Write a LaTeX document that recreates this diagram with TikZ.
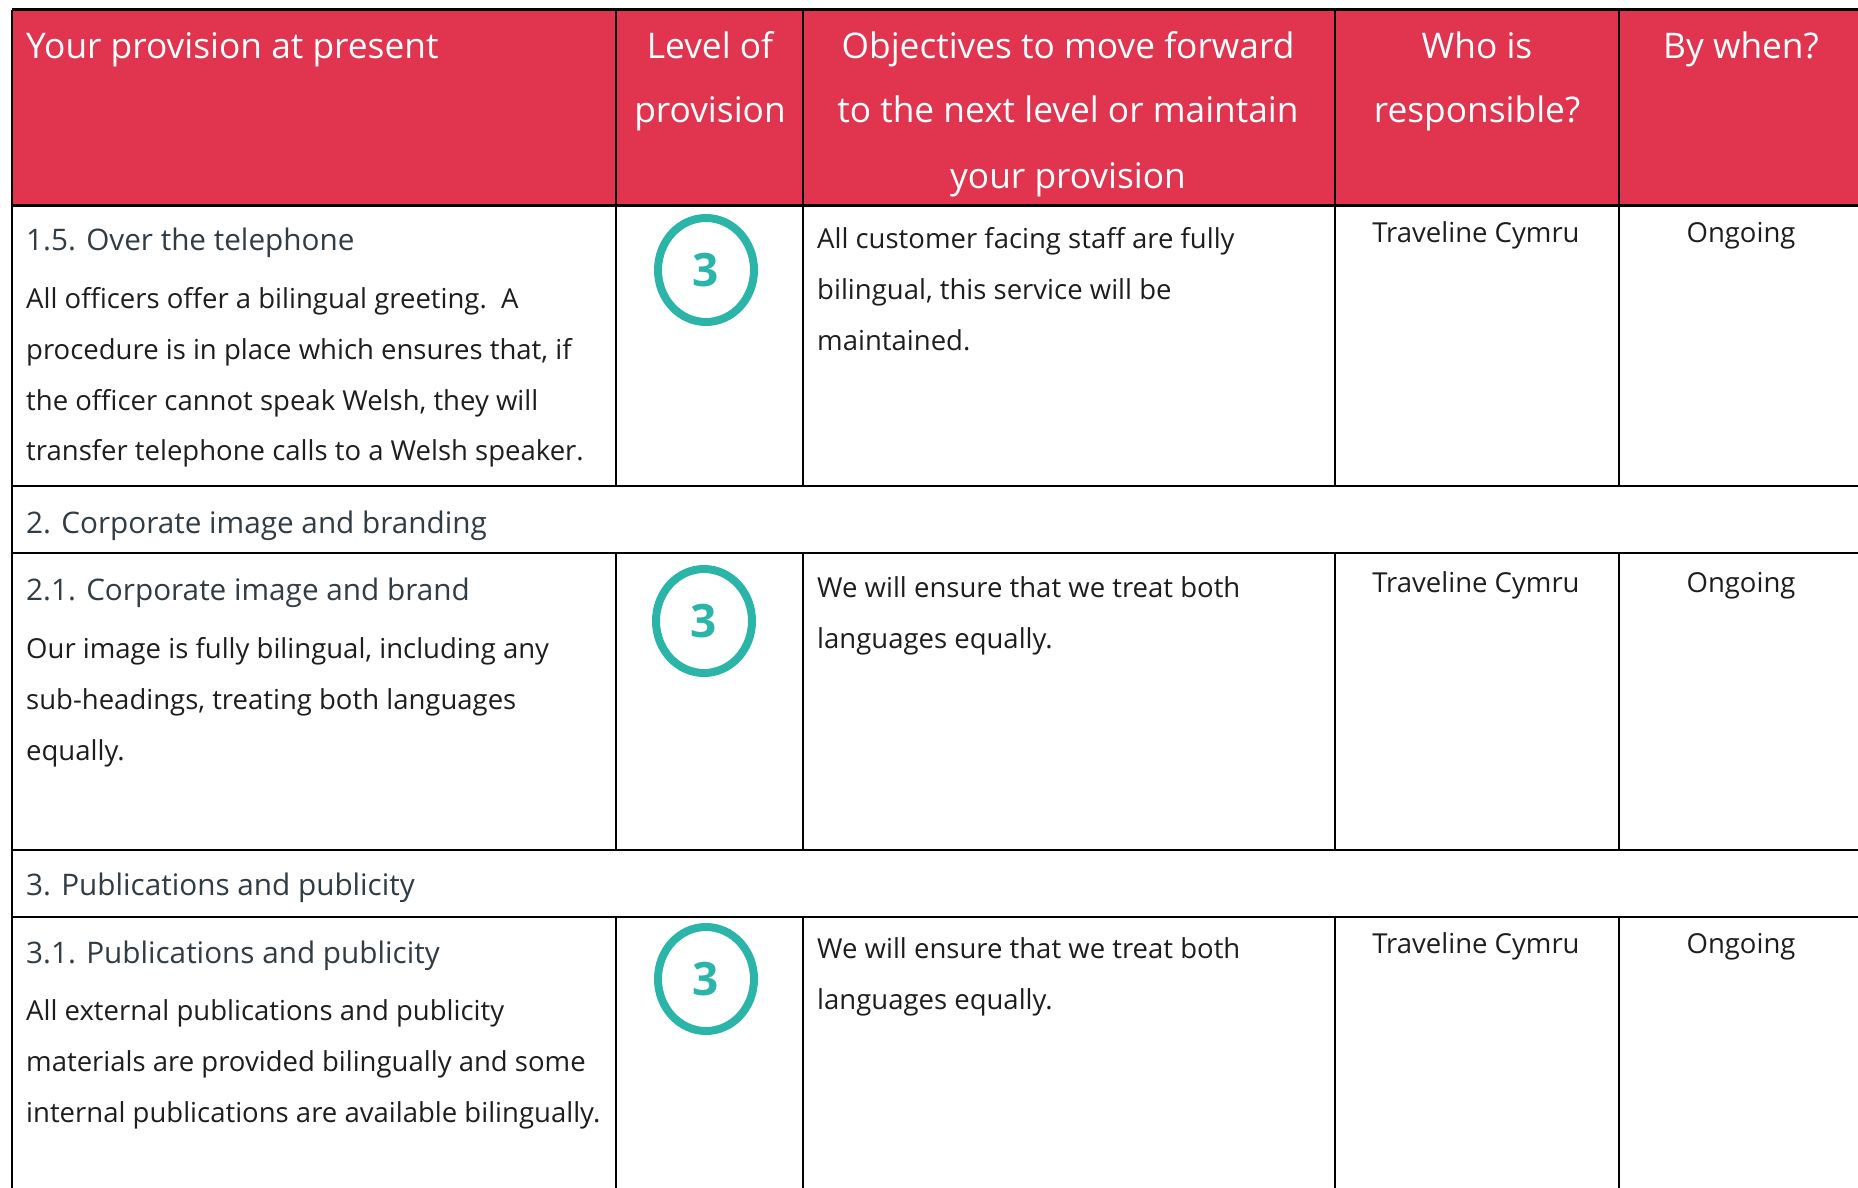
\documentclass[tikz,border=0pt]{standalone}
\usepackage{fontspec}
\setmainfont{Open Sans}
\usetikzlibrary{shapes.geometric}
\definecolor{hdrred}{HTML}{E0344F}
\definecolor{teal3}{HTML}{2BB5A8}
\definecolor{titlec}{HTML}{323C44}
\definecolor{bodyc}{HTML}{1E1E1E}
\tikzset{
  hdr/.style={inner sep=0, text=white, font=\fontsize{35.3}{35.3}\selectfont},
  hdrl/.style={hdr, anchor=base west},
  hdrc/.style={hdr, anchor=base},
  ttl/.style={anchor=base west, inner sep=0, text=titlec, font=\fontsize{29.7}{29.7}\selectfont},
  bodyl/.style={anchor=base west, inner sep=0, text=bodyc, font=\fontsize{27.5}{27.5}\selectfont},
  bodyc/.style={anchor=base, inner sep=0, text=bodyc, font=\fontsize{27.5}{27.5}\selectfont},
  lvl/.style={ellipse, draw=teal3, line width=8pt, minimum width=96pt, minimum height=104pt, inner sep=0, text=teal3, font=\fontsize{46}{46}\selectfont\bfseries},
  hline/.style={line width=2.5pt},
  vline/.style={line width=2pt},
}
\begin{document}
\begin{tikzpicture}[x=1pt,y=-1pt]
\useasboundingbox (0,0) rectangle (1858,1188);
\fill[white] (0,0) rectangle (1858,1188);
\fill[hdrred] (11.5,10) rectangle (1858,205);
% grid
\draw[line width=3pt] (11.5,10) -- (1858,10);
\draw[line width=3pt] (11.5,205) -- (1858,205);
\foreach \yy in {486,553,850,917} \draw[hline] (11.5,\yy) -- (1858,\yy);
\draw[vline] (11.5,10) -- (11.5,1188);
\foreach \xx in {616,803,1335,1619} {
  \draw[vline] (\xx,10) -- (\xx,486);
  \draw[vline] (\xx,553) -- (\xx,850);
  \draw[vline] (\xx,917) -- (\xx,1188);
}
% header
\node[hdrl] (h1) at (26,59) {Your provision at present};
\node[hdrc] (h2a) at (710,59) {Level of};
\node[hdrc] (h2b) at (710,123) {provision};
\node[hdrc] (h3a) at (1068,59) {Objectives to move forward};
\node[hdrc] (h3b) at (1068,123) {to the next level or maintain};
\node[hdrc] (h3c) at (1068,188) {your provision};
\node[hdrc] (h4a) at (1477,59) {Who is};
\node[hdrc] (h4b) at (1477,123) {responsible?};
\node[hdrc] (h5) at (1741,59) {By when?};
% row 1.5
\node[ttl] (t1) at (26,250) {1.5. Over the telephone};
\node[bodyl] (b1a) at (26,308) {All officers offer a bilingual greeting.\ \ A};
\node[bodyl] (b1b) at (26,359) {procedure is in place which ensures that, if};
\node[bodyl] (b1c) at (26,410) {the officer cannot speak Welsh, they will};
\node[bodyl] (b1d) at (26,460) {transfer telephone calls to a Welsh speaker.};
\node[lvl] (l1) at (706,270) {3};
\node[bodyl] (o1a) at (817,248) {All customer facing staff are fully};
\node[bodyl] (o1b) at (817,299) {bilingual, this service will be};
\node[bodyl] (o1c) at (817,350) {maintained.};
\node[bodyc] (w1) at (1476,242) {Traveline Cymru};
\node[bodyc] (d1) at (1741,242) {Ongoing};
% section 2
\node[ttl] (s2) at (26,533) {2. Corporate image and branding};
\node[ttl] (t2) at (26,600) {2.1. Corporate image and brand};
\node[bodyl] (b2a) at (26,658) {Our image is fully bilingual, including any};
\node[bodyl] (b2b) at (26,709) {sub-headings, treating both languages};
\node[bodyl] (b2c) at (26,760) {equally.};
\node[lvl] (l2) at (704,621) {3};
\node[bodyl] (o2a) at (817,597) {We will ensure that we treat both};
\node[bodyl] (o2b) at (817,648) {languages equally.};
\node[bodyc] (w2) at (1476,592) {Traveline Cymru};
\node[bodyc] (d2) at (1741,592) {Ongoing};
% section 3
\node[ttl] (s3) at (26,895) {3. Publications and publicity};
\node[ttl] (t3) at (26,963) {3.1. Publications and publicity};
\node[bodyl] (b3a) at (26,1020) {All external publications and publicity};
\node[bodyl] (b3b) at (26,1071) {materials are provided bilingually and some};
\node[bodyl] (b3c) at (26,1122) {internal publications are available bilingually.};
\node[lvl] (l3) at (706,979) {3};
\node[bodyl] (o3a) at (817,958) {We will ensure that we treat both};
\node[bodyl] (o3b) at (817,1009) {languages equally.};
\node[bodyc] (w3) at (1476,953) {Traveline Cymru};
\node[bodyc] (d3) at (1741,953) {Ongoing};
\end{tikzpicture}
\end{document}
